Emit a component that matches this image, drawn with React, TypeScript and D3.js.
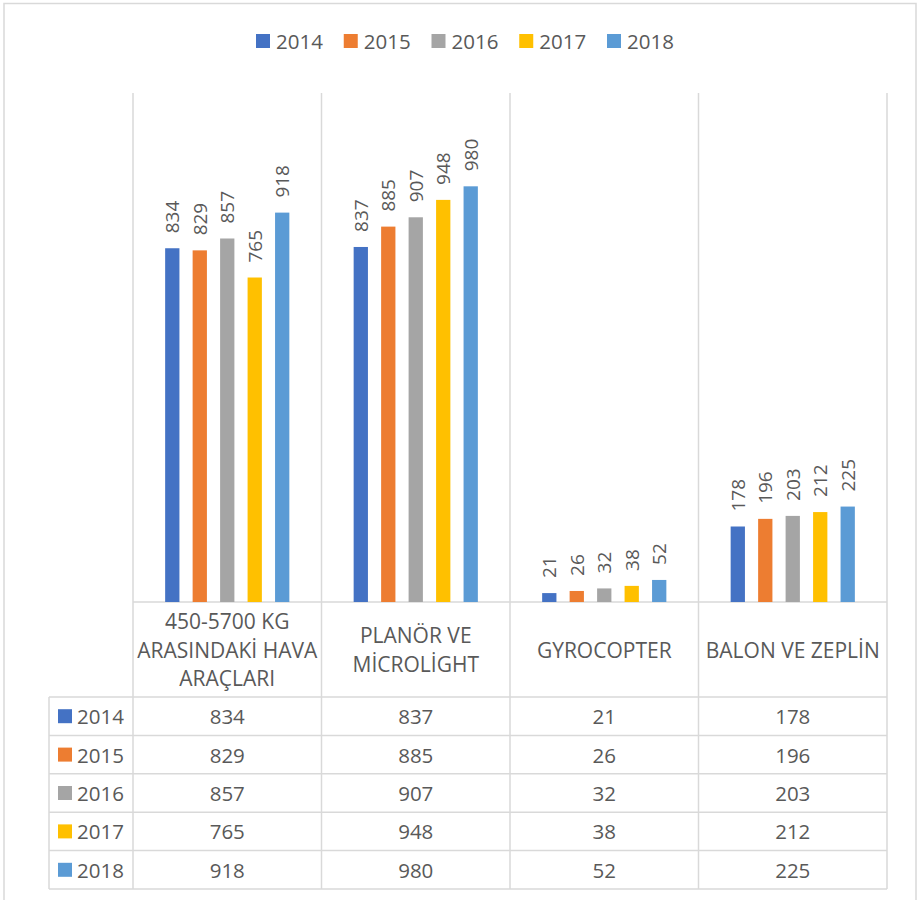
import React from "react";
import * as d3 from "d3";

const categories = ["450-5700 KG ARASINDAKİ HAVA ARAÇLARI", "PLANÖR VE MİCROLİGHT", "GYROCOPTER", "BALON VE ZEPLİN"];
const categoryLines = [
  ["450-5700 KG", "ARASINDAKİ HAVA", "ARAÇLARI"],
  ["PLANÖR VE", "MİCROLİGHT"],
  ["GYROCOPTER"],
  ["BALON VE ZEPLİN"],
];
const years = ["2014", "2015", "2016", "2017", "2018"];
const values2014 = [834, 837, 21, 178];
const values2015 = [829, 885, 26, 196];
const values2016 = [857, 907, 32, 203];
const values2017 = [765, 948, 38, 212];
const values2018 = [918, 980, 52, 225];
const seriesValues = [values2014, values2015, values2016, values2017, values2018];
const colors = ["#4472C4", "#ED7D31", "#A5A5A5", "#FFC000", "#5B9BD5"];

const W = 917;
const H = 900;
const FONT = "'Open Sans', sans-serif";
const TEXT = "#595959";
const GRID = "#d9d9d9";

export default function App() {
  const plot = { left: 133, right: 887, top: 93, bottom: 602 };
  const labelRowBottom = 697;
  const tableBottom = 889;
  const tableLeft = 49;

  const x0 = d3.scaleBand<string>().domain(categories).range([plot.left, plot.right]).padding(0);
  const x1 = d3
    .scaleBand<string>()
    .domain(years)
    .range([0, x0.bandwidth()])
    .paddingInner(0.48)
    .paddingOuter(1.17);
  const y = d3.scaleLinear().domain([0, 1200]).range([plot.bottom, plot.top]);
  const rowY = d3.scaleBand<string>().domain(years).range([labelRowBottom, tableBottom]);

  const legendStep = 87.75;
  const legendX0 = 256;

  const gridXs = categories.map((c) => x0(c)!).concat([plot.right]);
  const rowLines = years.map((yr) => rowY(yr)!).concat([tableBottom]);

  return (
    <svg
      width={W}
      height={H}
      style={{ position: "absolute", left: 0, top: 0, background: "#fff" }}
      fontFamily={FONT}
    >
      <rect x={4} y={3.5} width={912} height={905} fill="#fff" stroke={GRID} strokeWidth={1.5} />

      {/* legend */}
      {years.map((yr, i) => (
        <g key={yr} transform={`translate(${legendX0 + i * legendStep},41)`}>
          <rect x={0} y={-7} width={14} height={14} fill={colors[i]} />
          <text x={20} y={0} dominantBaseline="central" fontSize={20.5} fill={TEXT}>
            {yr}
          </text>
        </g>
      ))}

      {/* vertical grid / table column lines */}
      {gridXs.map((gx, i) => (
        <line key={i} x1={gx} x2={gx} y1={plot.top} y2={tableBottom} stroke={GRID} strokeWidth={1.5} />
      ))}
      <line x1={tableLeft} x2={tableLeft} y1={labelRowBottom} y2={tableBottom} stroke={GRID} strokeWidth={1.5} />
      <line x1={plot.left} x2={plot.right} y1={plot.bottom} y2={plot.bottom} stroke={GRID} strokeWidth={1.5} />
      {rowLines.map((ry, i) => (
        <line key={i} x1={tableLeft} x2={plot.right} y1={ry} y2={ry} stroke={GRID} strokeWidth={1.5} />
      ))}

      {/* bars */}
      {years.map((yr, si) => (
        <g key={yr} fill={colors[si]}>
          {categories.map((c, ci) => {
            const v = seriesValues[si][ci];
            const bx = x0(c)! + x1(yr)!;
            return (
              <rect key={c} x={bx} y={y(v)} width={x1.bandwidth()} height={y(0) - y(v)} />
            );
          })}
        </g>
      ))}

      {/* value labels */}
      {years.map((yr, si) =>
        categories.map((c, ci) => {
          const v = seriesValues[si][ci];
          const cx = x0(c)! + x1(yr)! + x1.bandwidth() / 2;
          return (
            <text
              key={yr + c}
              transform={`translate(${cx},${y(v) - 15}) rotate(-90)`}
              dominantBaseline="central"
              fontSize={19}
              fill={TEXT}
            >
              {v}
            </text>
          );
        })
      )}

      {/* category labels */}
      {categories.map((c, ci) => {
        const lines = categoryLines[ci];
        const cx = x0(c)! + x0.bandwidth() / 2;
        const mid = (plot.bottom + labelRowBottom) / 2;
        return (
          <text key={c} textAnchor="middle" fontSize={21} fill={TEXT}>
            {lines.map((ln, li) => (
              <tspan key={li} x={cx} y={mid + (li - (lines.length - 1) / 2) * 28.5} dominantBaseline="central">
                {ln}
              </tspan>
            ))}
          </text>
        );
      })}

      {/* data table */}
      {years.map((yr, si) => {
        const cy = rowY(yr)! + rowY.bandwidth() / 2;
        return (
          <g key={yr}>
            <rect x={58} y={cy - 7} width={14} height={14} fill={colors[si]} />
            <text x={77} y={cy} dominantBaseline="central" fontSize={20.5} fill={TEXT}>
              {yr}
            </text>
            {categories.map((c, ci) => (
              <text
                key={c}
                x={x0(c)! + x0.bandwidth() / 2}
                y={cy}
                textAnchor="middle"
                dominantBaseline="central"
                fontSize={20.5}
                fill={TEXT}
              >
                {seriesValues[si][ci]}
              </text>
            ))}
          </g>
        );
      })}
    </svg>
  );
}
